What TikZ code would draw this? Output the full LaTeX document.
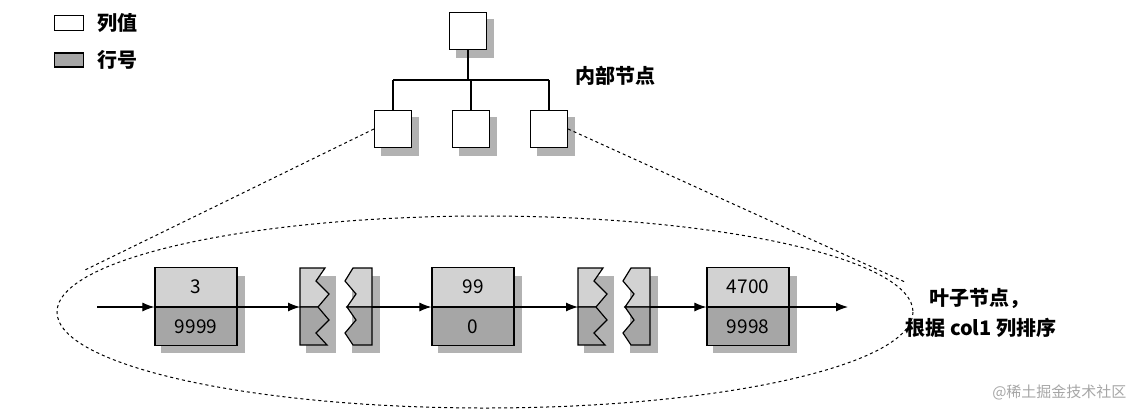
\documentclass[tikz,border=0pt]{standalone}
\usepackage{fontspec}
\usetikzlibrary{arrows.meta}
\setmainfont{Noto Sans CJK SC}
\begin{document}
\begin{tikzpicture}[x=1pt,y=-1pt,
  box/.style={draw,line width=1.2pt,fill=white},
  lite/.style={draw=black,line width=1.2pt,fill=gray!35},
  dark/.style={draw=black,line width=1.2pt,fill=gray!70},
  shad/.style={fill=gray!60},
  arr/.style={-{Latex[length=12pt,width=9pt]},line width=1.1pt},
  lbl/.style={font=\fontsize{20}{24}\selectfont\bfseries},
  num/.style={font=\fontsize{19}{22}\selectfont}]
\useasboundingbox (0,0) rectangle (1138,416);
% legend
\node[box,minimum width=29pt,minimum height=15pt,inner sep=0] (lg1) at (69,23) {};
\node[lbl,anchor=west] (lt1) at (94,23) {列值};
\node[dark,minimum width=29pt,minimum height=14pt,inner sep=0] (lg2) at (69,60) {};
\node[lbl,anchor=west] (lt2) at (94,60) {行号};
% internal tree
\foreach \n/\x/\y in {r/468/31,c1/393/129,c2/471/129,c3/549/129}{
  \fill[shad] (\x-12,\y-12) rectangle (\x+26,\y+27);
  \node[box,minimum size=37pt,inner sep=0] (\n) at (\x,\y) {};
}
\draw[line width=1.2pt] (r.south) -- (r.south |- 0,80) coordinate (hm);
\draw[line width=1.2pt] (c1.north |- 0,80) coordinate (hl) -- (c3.north |- 0,80) coordinate (hr);
\draw[line width=1.2pt] (hl) -- (c1.north);
\draw[line width=1.2pt] (c2.north |- 0,80) -- (c2.north);
\draw[line width=1.2pt] (hr) -- (c3.north);
\node[lbl,anchor=west] (inn) at (572,76) {内部节点};
% ellipse & cone
\draw[dashed,line width=1pt] (485,312) ellipse [x radius=428, y radius=96];
\draw[dashed,line width=1pt] (c1.west) -- (85,270);
\draw[dashed,line width=1pt] (c3.east) -- (905,282);
% leaf boxes
\foreach \n/\x/\a/\b in {l1/196/3/9999,l2/473/99/0,l3/748/4700/9998}{
  \fill[shad] (\x-35,276) rectangle (\x+49,353);
  \node[lite,minimum width=82pt,minimum height=39pt,inner sep=0,anchor=south,num] (\n u) at (\x,307) {\a};
  \node[dark,minimum width=82pt,minimum height=38pt,inner sep=0,anchor=north,num] (\n d) at (\x,307) {\b};
}
% zigzag pieces
\foreach \s in {0,278}{
  \begin{scope}[xshift=\s]
  \fill[shad] (306,276) rectangle (336,353);
  \fill[shad] (352,276) rectangle (380,353);
  \filldraw[lite] (300,268) -- (325,268) -- (316,281) -- (329,294) -- (318,307) -- (300,307) -- cycle;
  \filldraw[dark] (300,307) -- (318,307) -- (329,320) -- (316,333) -- (327,345) -- (300,345) -- cycle;
  \filldraw[lite] (372,268) -- (353,268) -- (345,281) -- (356,294) -- (347,307) -- (372,307) -- cycle;
  \filldraw[dark] (372,307) -- (347,307) -- (356,320) -- (345,333) -- (353,345) -- (372,345) -- cycle;
  \coordinate (zl\s) at (300,307);
  \coordinate (zr\s) at (372,307);
  \end{scope}
}
% arrows
\coordinate (st) at (97,307);
\coordinate (en) at (848,307);
\draw[arr] (st) -- (l1u.south west);
\draw[arr] (l1u.south east) -- (zl0);
\draw[arr] (zr0) -- (l2u.south west);
\draw[arr] (l2u.south east) -- (zl278);
\draw[arr] (zr278) -- (l3u.south west);
\draw[arr] (l3u.south east) -- (en);
\node[lbl,anchor=west] (leaf1) at (926,298) {叶子节点，};
\node[lbl,anchor=west] (leaf2) at (902,328) {根据 col1 列排序};
\node[font=\fontsize{15}{18}\selectfont,text=gray!70,anchor=east] (wm) at (1130,392) {@稀土掘金技术社区};
\end{tikzpicture}
\end{document}
